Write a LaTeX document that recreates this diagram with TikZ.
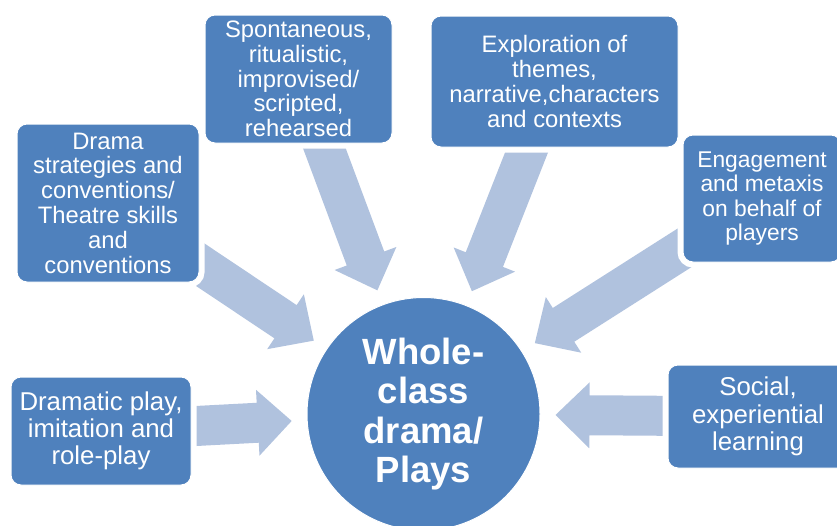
\documentclass[tikz,border=0pt]{standalone}
\usepackage{fontspec}
\setmainfont{Liberation Sans}
\usepackage{tikz}
\usetikzlibrary{calc}
\pgfdeclarelayer{background}
\pgfdeclarelayer{foreground}
\pgfsetlayers{background,main,foreground}

\definecolor{boxblue}{HTML}{4F81BD}
\definecolor{arrowblue}{HTML}{B0C2DE}

\tikzset{
  topic/.style={rectangle, rounded corners=10pt, fill=boxblue, draw=white, line width=1pt,
    preaction={draw=white, line width=11pt}, text=white, align=center, inner sep=0pt,
    font=\fontsize{23.8}{24.8}\selectfont},
  bigtopic/.style={topic, font=\fontsize{25.8}{27.3}\selectfont},
  smalltopic/.style={topic, font=\fontsize{22.8}{24.4}\selectfont},
  hub/.style={circle, fill=boxblue, draw=white, line width=1pt, minimum size=233pt,
    text=white, align=center, inner sep=0pt, font=\fontsize{36.5}{39.5}\selectfont\bfseries},
  feed/.style={fill=arrowblue}
}

% block arrow from a box towards the hub
\newcommand{\feedarrow}[2]{%
  \coordinate (tip) at ($(#2.center)!132pt!(#1.center)$);
  \coordinate (neck) at ($(tip)!34pt!(#1.center)$);
  \fill[feed] ($(#1.center)!20pt!90:(tip)$) -- ($(neck)!20pt!90:(tip)$)
    -- ($(neck)!33pt!90:(tip)$) -- (tip) -- ($(neck)!33pt!-90:(tip)$)
    -- ($(neck)!20pt!-90:(tip)$) -- ($(#1.center)!20pt!-90:(tip)$) -- cycle;
}

\begin{document}
\begin{tikzpicture}[x=1pt,y=-1pt]
\useasboundingbox (0,0) rectangle (837,525);

\node[hub] (whole) at (423.5,414) {Whole-\\class\\drama/\\Plays};

\node[topic, minimum width=182pt, minimum height=158pt] (strat) at (108,203)
  {Drama\\strategies and\\conventions/\\Theatre skills\\and\\conventions};
\node[topic, minimum width=187pt, minimum height=128pt] (modes) at (298.5,79)
  {Spontaneous,\\ritualistic,\\improvised/\\scripted,\\rehearsed};
\node[topic, minimum width=247pt, minimum height=131pt] (themes) at (554.5,81.5)
  {Exploration of\\themes,\\narrative,characters\\and contexts};
\node[smalltopic, minimum width=158pt, minimum height=127pt] (engage) at (762,198.5)
  {Engagement\\and metaxis\\on behalf of\\players};
\node[bigtopic, minimum width=180pt, minimum height=108pt] (play) at (101,431)
  {Dramatic play,\\imitation and\\role-play};
\node[bigtopic, minimum width=180pt, minimum height=103pt] (social) at (758,416.5)
  {Social,\\experiential\\learning};

\begin{pgfonlayer}{background}
\feedarrow{strat}{whole}
\feedarrow{modes}{whole}
\feedarrow{themes}{whole}
\feedarrow{engage}{whole}
\feedarrow{play}{whole}
\feedarrow{social}{whole}
\end{pgfonlayer}
\end{tikzpicture}
\end{document}
